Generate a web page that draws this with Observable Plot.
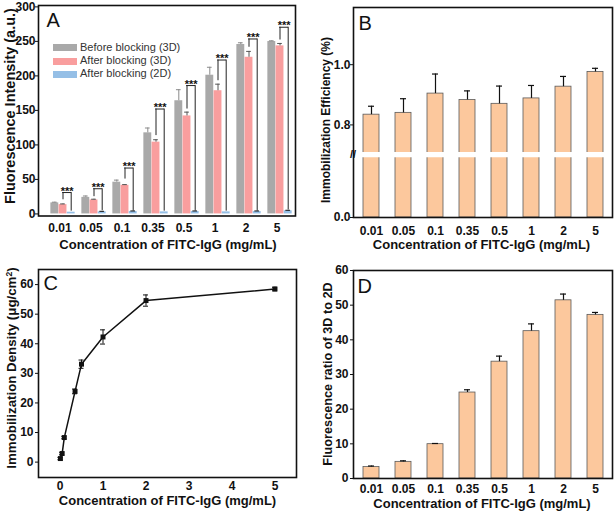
<!DOCTYPE html>
<html><head><meta charset="utf-8">
<script src="https://cdn.jsdelivr.net/npm/d3@7"></script>
<script src="https://cdn.jsdelivr.net/npm/@observablehq/plot@0.6"></script>
<style>
html,body{margin:0;padding:0;background:#fff;}
body{width:614px;height:515px;position:relative;overflow:hidden;font-family:"Liberation Sans",Arial,Helvetica,sans-serif;}
.t{position:absolute;white-space:nowrap;font-weight:bold;color:#111;line-height:1;transform:translate(-50%,-50%);}
.t.r{transform:translate(-50%,-50%) rotate(-90deg);}
.lg{position:absolute;font-size:11px;color:#333;line-height:1;white-space:nowrap;}
.sw{position:absolute;width:24px;height:7px;}
</style></head><body>
<script>
// ---------- data ----------
const concLabels = ["0.01","0.05","0.1","0.35","0.5","1","2","5"];
const concValues = [0.01,0.05,0.1,0.35,0.5,1,2,5];

// Panel A
const seriesA = ["Before blocking (3D)","After blocking (3D)","After blocking (2D)"];
const beforeBlock3D    = [16, 24, 46, 117.5, 164, 201, 245.5, 249.8];
const beforeBlock3DErr = [1, 2, 3, 7, 16, 11.5, 2.5, 1];
const afterBlock3D     = [13.5, 20.3, 41.5, 104, 142, 178.5, 227, 243.5];
const afterBlock3DErr  = [1, 1, 1, 3.5, 5.5, 9.5, 8.5, 3.5];
const afterBlock2D     = [2.5, 3, 3.5, 3, 3.5, 3, 3.5, 4.5];
const afterBlock2DErr  = [0, 0.8, 0.8, 0, 0.8, 0, 0.8, 0.8];
const bracketTop       = [31, 36.5, 66.5, 152, 186, 223, 253.5, 270.5];
const bracketLeftEnd   = [20.5, 25, 50.5, 113.5, 152, 193, 241.5, 252];
const bracketRightEnd  = [4, 5, 5, 4, 5, 4, 5, 6];
const sigMarks         = ["***","***","***","***","***","***","***","***"];
const yTicksA = [0,50,100,150,200,250,300];

// Panel B
const efficiencyB    = [0.834, 0.840, 0.904, 0.883, 0.870, 0.888, 0.927, 0.976];
const efficiencyBErr = [0.028, 0.047, 0.065, 0.030, 0.059, 0.043, 0.034, 0.012];
const yTicksB = [0.0, 0.8, 1.0];

// Panel C
const densityC    = [1.2, 2.9, 8.3, 23.9, 33.1, 42.3, 54.6, 58.5];
const densityCErr = [0.4, 0.4, 0.4, 0.8, 1.4, 2.4, 1.9, 0.6];
const xTicksC = [0,1,2,3,4,5];
const yTicksC = [0,10,20,30,40,50,60];

// Panel D
const ratioD    = [3.3, 4.8, 9.9, 24.8, 33.7, 42.5, 51.4, 47.2];
const ratioDErr = [0.3, 0.3, 0.2, 0.8, 1.6, 2.1, 1.8, 0.7];
const yTicksD = [0,10,20,30,40,50,60];

// ---------- layout / style ----------
const FONT = '"Liberation Sans", Arial, Helvetica, sans-serif';
const ML = 36, MR = 2, MT = 3, MB = 24;
const colorsA = ["#A9A9A9", "#F99E9E", "#95BFE6"];
const errColorsA = ["#8a8a8a", "#555555", "#111111"];
const PEACH = "#FCC89D";

function base(f) {
  return {
    width: f.x1 - f.x0 + ML + MR,
    height: f.y1 - f.y0 + MT + MB,
    marginLeft: ML, marginRight: MR, marginTop: MT, marginBottom: MB,
    style: {fontFamily: FONT, fontSize: "12px", fontWeight: "bold", color: "#111", background: "transparent", overflow: "visible"}
  };
}
function place(el, f) {
  el.style.position = "absolute";
  el.style.left = (f.x0 - ML) + "px";
  el.style.top = (f.y0 - MT) + "px";
  document.body.appendChild(el);
}
function title(text, cx, cy, size, rot) {
  const d = document.createElement("div");
  d.className = "t" + (rot ? " r" : "");
  d.style.left = cx + "px"; d.style.top = cy + "px"; d.style.fontSize = size + "px";
  d.innerHTML = text;
  document.body.appendChild(d);
}
const letter = (s, dx, dy) => Plot.text([s], {frameAnchor: "top-left", textAnchor: "start", lineAnchor: "top", dx, dy, fontSize: 20, fontWeight: "normal", fill: "#111"});

// ---------- Panel A ----------
const FA = {x0: 38, x1: 295, y0: 5, y1: 215.5};
const STEP = 31.3, BW = 8.2, GOFF = 3;
const padA = ((FA.x1 - FA.x0) / STEP - concLabels.length) / 2;
const gStart = (STEP - 3 * BW) / 2 + GOFF;
const ctr = s => gStart + s * BW + BW / 2;
const barInset = s => ({insetLeft: gStart + s * BW, insetRight: STEP - gStart - (s + 1) * BW});
const capInset = (s, w) => ({insetLeft: ctr(s) - w / 2, insetRight: STEP - ctr(s) - w / 2});
const dxOf = s => ctr(s) - STEP / 2;

const rowsA = concLabels.map((c, i) => ({
  c, before: beforeBlock3D[i], beforeErr: beforeBlock3DErr[i],
  after: afterBlock3D[i], afterErr: afterBlock3DErr[i],
  twoD: afterBlock2D[i], twoDErr: afterBlock2DErr[i],
  top: bracketTop[i], left: bracketLeftEnd[i], right: bracketRightEnd[i], sig: sigMarks[i]
}));
const keysA = [["before", "beforeErr"], ["after", "afterErr"], ["twoD", "twoDErr"]];
const marksA = [];
keysA.forEach(([k], s) => marksA.push(Plot.barY(rowsA, {x: "c", y: k, fill: colorsA[s], ...barInset(s)})));
keysA.forEach(([k, e], s) => {
  const rows = rowsA.filter(d => d[e] > 0);
  marksA.push(Plot.ruleX(rows, {x: "c", y1: k, y2: d => d[k] + d[e], dx: dxOf(s), stroke: errColorsA[s], strokeWidth: 1}));
  marksA.push(Plot.tickY(rows, {x: "c", y: d => d[k] + d[e], ...capInset(s, 5), stroke: errColorsA[s], strokeWidth: 1}));
});
marksA.push(
  Plot.ruleX(rowsA, {x: "c", y1: "left", y2: "top", dx: dxOf(1), stroke: "#222", strokeWidth: 1}),
  Plot.ruleX(rowsA, {x: "c", y1: "right", y2: "top", dx: dxOf(2), stroke: "#222", strokeWidth: 1}),
  Plot.tickY(rowsA, {x: "c", y: "top", insetLeft: ctr(1) - 0.5, insetRight: STEP - ctr(2) - 0.5, stroke: "#222", strokeWidth: 1}),
  Plot.text(rowsA, {x: "c", y: "top", text: "sig", dx: (dxOf(1) + dxOf(2)) / 2, lineAnchor: "middle", dy: -1.5, fontSize: 11, fontWeight: "bold", fill: "#111"}),
  Plot.frame({stroke: "#111", strokeWidth: 1.6}),
  letter("A", 8, 7)
);
const plotA = Plot.plot({
  ...base(FA),
  x: {type: "band", domain: concLabels, paddingInner: 0, paddingOuter: padA, align: 0.64, tickSize: 0, tickPadding: 7, label: null},
  y: {domain: [-3, 302], ticks: yTicksA, tickSize: 3, tickPadding: 0, label: null},
  marks: marksA
});
place(plotA, FA);

// ---------- Panel B ----------
const FB = {x0: 353, x1: 612, y0: 7, y1: 217};
const rowsB = concLabels.map((c, i) => ({c, v: efficiencyB[i], e: efficiencyBErr[i]}));
const toSvgB = p => p - FB.y0 + MT;
const plotB = Plot.plot({
  ...base(FB),
  x: {type: "band", domain: concLabels, paddingInner: 0.5, paddingOuter: 0.26, tickSize: 0, tickPadding: 8.5, label: null},
  y: {type: "linear", domain: [0, 0.15, 0.71, 1.19], range: [toSvgB(217), toSvgB(156.7), toSvgB(151.5), toSvgB(7)],
      ticks: yTicksB, tickFormat: d3.format(".1f"), tickSize: 3, tickPadding: 0, label: null},
  marks: [
    Plot.barY(rowsB, {x: "c", y: "v", fill: PEACH, stroke: "#5a5a5a", strokeWidth: 0.8}),
    Plot.ruleX(rowsB, {x: "c", y1: "v", y2: d => d.v + d.e, stroke: "#111", strokeWidth: 1.2}),
    Plot.tickY(rowsB, {x: "c", y: d => d.v + d.e, insetLeft: 5, insetRight: 5, stroke: "#111", strokeWidth: 1.2}),
    Plot.ruleY([0.43], {stroke: "#fff", strokeWidth: 5.2}),
    Plot.frame({stroke: "#111", strokeWidth: 1.6}),
    letter("B", 5, 8)
  ]
});
place(plotB, FB);

// ---------- Panel C ----------
const FC = {x0: 38, x1: 296, y0: 269, y1: 477};
const rowsC = concValues.map((x, i) => ({x, y: densityC[i], e: densityCErr[i]}));
const plotC = Plot.plot({
  ...base(FC),
  x: {domain: [-0.5, 5.5], ticks: xTicksC, tickFormat: d3.format("d"), tickSize: 0, tickPadding: 4, label: null},
  y: {domain: [-5.2, 65.1], ticks: yTicksC, tickFormat: d3.format("d"), tickSize: 3, tickPadding: 2, label: null},
  marks: [
    Plot.line(rowsC, {x: "x", y: "y", stroke: "#111", strokeWidth: 1.5}),
    Plot.ruleX(rowsC, {x: "x", y1: d => d.y - d.e, y2: d => d.y + d.e, stroke: "#111", strokeWidth: 1}),
    Plot.ruleY(rowsC, {x1: "x", x2: "x", y: d => d.y + d.e, insetLeft: -2.5, insetRight: -2.5, stroke: "#111", strokeWidth: 1}),
    Plot.ruleY(rowsC, {x1: "x", x2: "x", y: d => d.y - d.e, insetLeft: -2.5, insetRight: -2.5, stroke: "#111", strokeWidth: 1}),
    Plot.dot(rowsC, {x: "x", y: "y", symbol: "square", r: 2.8, fill: "#111", stroke: null}),
    Plot.frame({stroke: "#111", strokeWidth: 1.6}),
    letter("C", 5, 6)
  ]
});
place(plotC, FC);

// ---------- Panel D ----------
const FD = {x0: 353, x1: 612, y0: 270, y1: 478};
const rowsD = concLabels.map((c, i) => ({c, v: ratioD[i], e: ratioDErr[i]}));
const plotD = Plot.plot({
  ...base(FD),
  x: {type: "band", domain: concLabels, paddingInner: 0.5, paddingOuter: 0.26, tickSize: 0, tickPadding: 6, label: null},
  y: {domain: [0, 60], ticks: yTicksD, tickSize: 3, tickPadding: 2, label: null},
  marks: [
    Plot.barY(rowsD, {x: "c", y: "v", fill: PEACH, stroke: "#5a5a5a", strokeWidth: 0.8}),
    Plot.ruleX(rowsD, {x: "c", y1: "v", y2: d => d.v + d.e, stroke: "#111", strokeWidth: 1.2}),
    Plot.tickY(rowsD, {x: "c", y: d => d.v + d.e, insetLeft: 5, insetRight: 5, stroke: "#111", strokeWidth: 1.2}),
    Plot.frame({stroke: "#111", strokeWidth: 1.6}),
    letter("D", 4, 8)
  ]
});
place(plotD, FD);

// ---------- titles ----------
const xTitle = "Concentration of FITC-IgG (mg/mL)";
title(xTitle, 168, 243.5, 13, false);
title(xTitle, 481.5, 243.5, 13, false);
title(xTitle, 167.5, 500, 13, false);
title(xTitle, 482, 503, 13, false);
title("Fluorescence Intensity (a.u.)", 9.5, 106, 14.5, true);
title("Immobilization Efficiency (%)", 326, 119.5, 12, true);
title("Immobilization Density (&mu;g/cm<sup style=\"font-size:0.65em;vertical-align:0.5em;line-height:0\">2</sup>)", 11.5, 368, 13.3, true);
title("Fluorescence ratio of 3D to 2D", 327.5, 373.5, 12.7, true);
// axis-break marks on panel B's left axis
title("//", 353, 154, 11, false);

// legend for A (HTML)
const legendY = [47.7, 61, 74.3];
seriesA.forEach((name, s) => {
  const sw = document.createElement("div");
  sw.className = "sw"; sw.style.left = "53px"; sw.style.top = (legendY[s] - 3.5) + "px"; sw.style.background = colorsA[s];
  document.body.appendChild(sw);
  const t = document.createElement("div");
  t.className = "lg"; t.style.left = "80px"; t.style.top = (legendY[s] - 6) + "px"; t.textContent = name;
  document.body.appendChild(t);
});
</script>
</body></html>
